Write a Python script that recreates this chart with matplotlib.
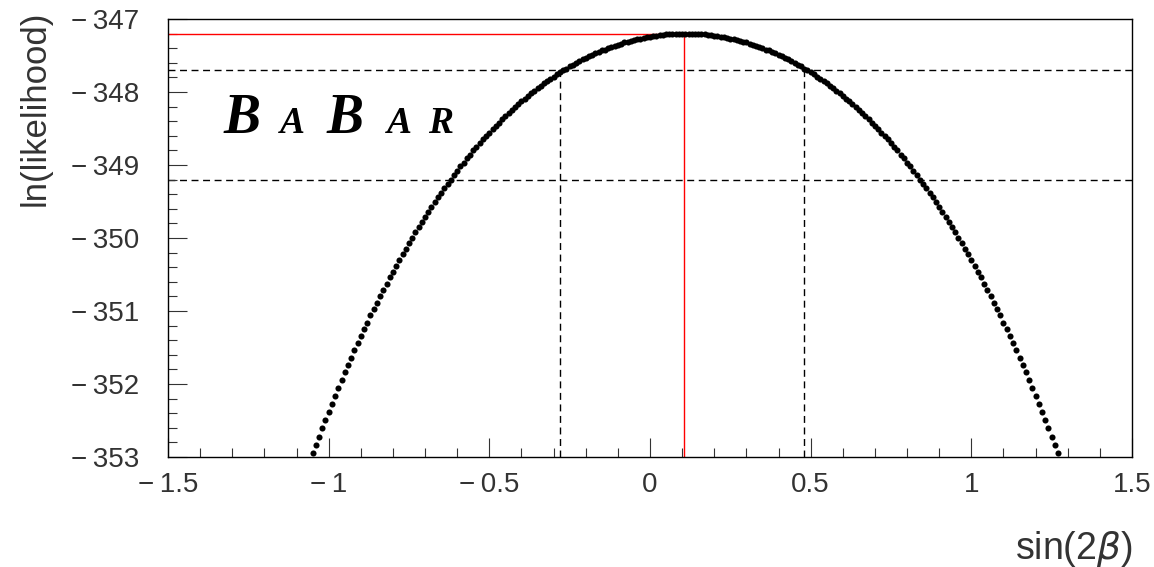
import numpy as np
import matplotlib
matplotlib.use("Agg")
import matplotlib.pyplot as plt
from matplotlib.ticker import MultipleLocator, FuncFormatter

# likelihood scan points, sin(2beta) in steps of 0.01
sin2b = np.round(np.arange(-1.06, 1.285, 0.01), 2)
lnL = [
    -353.07, -352.95, -352.83, -352.72, -352.60, -352.49, -352.38, -352.27, -352.16, -352.05,
    -351.94, -351.84, -351.74, -351.64, -351.54, -351.44, -351.34, -351.25, -351.16, -351.06,
    -350.97, -350.89, -350.80, -350.71, -350.63, -350.54, -350.46, -350.38, -350.30, -350.22,
    -350.15, -350.07, -350.00, -349.92, -349.85, -349.78, -349.71, -349.64, -349.58, -349.51,
    -349.44, -349.38, -349.32, -349.26, -349.20, -349.14, -349.08, -349.02, -348.97, -348.91,
    -348.86, -348.80, -348.75, -348.70, -348.65, -348.60, -348.56, -348.51, -348.46, -348.42,
    -348.37, -348.33, -348.29, -348.25, -348.21, -348.17, -348.13, -348.09, -348.05, -348.02,
    -347.98, -347.95, -347.92, -347.88, -347.85, -347.82, -347.79, -347.76, -347.73, -347.70,
    -347.68, -347.65, -347.63, -347.60, -347.58, -347.55, -347.53, -347.51, -347.49, -347.47,
    -347.45, -347.43, -347.42, -347.40, -347.38, -347.37, -347.35, -347.34, -347.32, -347.31,
    -347.30, -347.29, -347.28, -347.27, -347.26, -347.25, -347.24, -347.23, -347.23, -347.22,
    -347.22, -347.21, -347.21, -347.21, -347.20, -347.20, -347.20, -347.20,
    -347.20, -347.20, -347.20, -347.21, -347.21, -347.21, -347.22, -347.22, -347.23, -347.23,
    -347.24, -347.25, -347.26, -347.27, -347.28, -347.29, -347.30, -347.31, -347.32, -347.34,
    -347.35, -347.37, -347.38, -347.40, -347.42, -347.43, -347.45, -347.47, -347.49, -347.51,
    -347.53, -347.55, -347.58, -347.60, -347.63, -347.65, -347.68, -347.70, -347.73, -347.76,
    -347.79, -347.82, -347.85, -347.88, -347.92, -347.95, -347.98, -348.02, -348.05, -348.09,
    -348.13, -348.17, -348.21, -348.25, -348.29, -348.33, -348.37, -348.42, -348.46, -348.51,
    -348.56, -348.60, -348.65, -348.70, -348.75, -348.80, -348.86, -348.91, -348.97, -349.02,
    -349.08, -349.14, -349.20, -349.26, -349.32, -349.38, -349.44, -349.51, -349.58, -349.64,
    -349.71, -349.78, -349.85, -349.92, -350.00, -350.07, -350.15, -350.22, -350.30, -350.38,
    -350.46, -350.54, -350.63, -350.71, -350.80, -350.89, -350.97, -351.06, -351.16, -351.25,
    -351.34, -351.44, -351.54, -351.64, -351.74, -351.84, -351.94, -352.05, -352.16, -352.27,
    -352.38, -352.49, -352.60, -352.72, -352.83, -352.95, -353.07,
]

best_fit = 0.105
lnL_max = -347.2
level_1sigma = -347.7
level_2sigma = -349.2
err_lo = -0.28
err_hi = 0.48

xlim = (-1.5, 1.5)
ylim = (-353, -347)

plt.rcParams["font.family"] = ["Liberation Sans", "DejaVu Sans"]

W, H = 1154, 567
fig = plt.figure(figsize=(W / 100, H / 100), dpi=100)
ax = fig.add_axes([168 / W, 1 - 457 / H, 964 / W, 438 / H])

dash = (0, (5, 3.3))
ax.axhline(level_1sigma, color="black", lw=1.0, ls=dash, zorder=1)
ax.axhline(level_2sigma, color="black", lw=1.0, ls=dash, zorder=1)
ax.plot([err_lo, err_lo], [ylim[0], level_1sigma], color="black", lw=1.0, ls=dash, zorder=1)
ax.plot([err_hi, err_hi], [ylim[0], level_1sigma], color="black", lw=1.0, ls=dash, zorder=1)

ax.plot([xlim[0], best_fit], [lnL_max, lnL_max], color="#ff0000", lw=1.0, zorder=2)
ax.plot([best_fit, best_fit], [ylim[0], lnL_max], color="#ff0000", lw=1.0, zorder=2)

ax.plot(sin2b, lnL, "o", color="black", ms=4.4, mew=0, zorder=3)

ax.set_xlim(*xlim)
ax.set_ylim(*ylim)

ax.xaxis.set_major_locator(MultipleLocator(0.5))
ax.xaxis.set_minor_locator(MultipleLocator(0.1))
ax.yaxis.set_major_locator(MultipleLocator(1))
ax.yaxis.set_minor_locator(MultipleLocator(0.2))

def fmt(v, pos):
    s = f"{abs(v):g}"
    return ("\u2212\u2009" + s) if v < 0 else s

ax.xaxis.set_major_formatter(FuncFormatter(fmt))
ax.yaxis.set_major_formatter(FuncFormatter(fmt))

txt = "#333333"
ax.tick_params(axis="both", which="major", direction="in", length=13.7, width=0.8,
               labelsize=20, colors=txt)
ax.tick_params(axis="both", which="minor", direction="in", length=6.5, width=0.8,
               colors=txt)
ax.tick_params(axis="x", which="major", pad=11)
ax.tick_params(axis="y", which="major", pad=21)
ax.tick_params(top=False, right=False, which="both")
for sp in ax.spines.values():
    sp.set_linewidth(1.0)

ax.set_xlabel("sin(2$\\beta$)", fontsize=27, loc="right", labelpad=22, color=txt)
ax.set_ylabel("ln(likelihood)", fontsize=25, loc="top", labelpad=14, color=txt)
ax.yaxis.label.set_y(1.02)

# BABAR logo, letters centred in their slots
logo = [("B", 242, 40), ("A", 292, 27), ("B", 345, 40), ("A", 399, 27), ("R", 441, 27)]
for ch, px, size in logo:
    fig.text(px / W, 1 - 133 / H, ch, fontsize=size, fontweight="bold", fontstyle="italic",
             family=["Liberation Serif", "DejaVu Serif"], ha="center", va="baseline")

fig.savefig("out.png", dpi=100)
